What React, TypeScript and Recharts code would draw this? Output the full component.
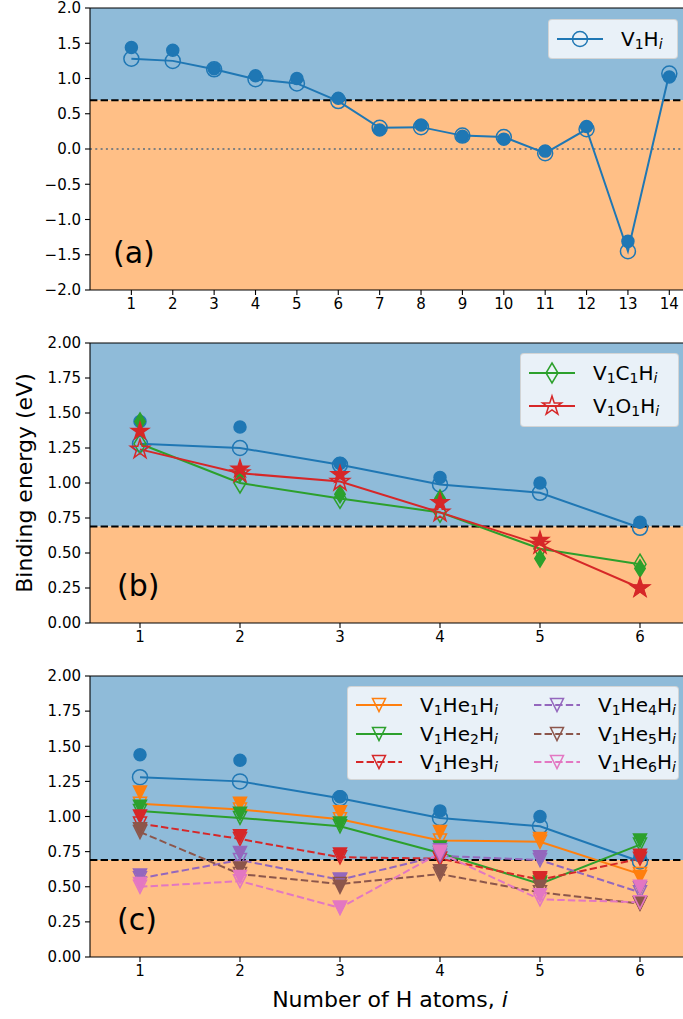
import React from 'react';
import {
  ComposedChart,
  Line,
  XAxis,
  YAxis,
  ReferenceArea,
  ReferenceLine,
  Legend,
} from 'recharts';

const FONT = '"DejaVu Sans", "Liberation Sans", sans-serif';

const C_BLUE = '#1f77b4';
const C_ORANGE = '#ff7f0e';
const C_GREEN = '#2ca02c';
const C_RED = '#d62728';
const C_PURPLE = '#9467bd';
const C_BROWN = '#8c564b';
const C_PINK = '#e377c2';
const BG_TOP = '#8fbbd9';
const BG_BOTTOM = '#ffbf86';

// reference energy (dashed line)
const THRESHOLD = 0.69;

// panel (a)
const hCountsA = [1, 2, 3, 4, 5, 6, 7, 8, 9, 10, 11, 12, 13, 14];
const v1hOpen = [1.28, 1.25, 1.13, 0.99, 0.93, 0.68, 0.3, 0.31, 0.19, 0.17, -0.06, 0.28, -1.45, 1.07];
const v1hFilled = [1.44, 1.4, 1.14, 1.04, 1.0, 0.72, 0.27, 0.34, 0.18, 0.14, -0.03, 0.32, -1.31, 1.02];
const yTicksA = [-2, -1.5, -1, -0.5, 0, 0.5, 1, 1.5, 2];

// panels (b) and (c)
const hCountsB = [1, 2, 3, 4, 5, 6];
const yTicksB = [0, 0.25, 0.5, 0.75, 1, 1.25, 1.5, 1.75, 2];

const v1c1hOpen = [1.28, 1.0, 0.89, 0.79, 0.53, 0.42];
const v1c1hFilled = [1.44, 1.07, 0.92, 0.89, 0.46, 0.39];
const v1o1hOpen = [1.24, 1.07, 1.01, 0.79, 0.56, 0.25];
const v1o1hFilled = [1.37, 1.1, 1.06, 0.86, 0.59, 0.25];

const he1Open = [1.09, 1.05, 0.98, 0.83, 0.82, 0.59];
const he1Filled = [1.17, 1.09, 1.03, 0.89, 0.84, 0.57];
const he2Open = [1.04, 0.99, 0.93, 0.74, 0.52, 0.8];
const he2Filled = [1.07, 1.02, 0.95, 0.78, 0.53, 0.83];
const he3Open = [0.95, 0.84, 0.71, 0.7, 0.55, 0.7];
const he3Filled = [1.0, 0.86, 0.73, 0.7, 0.56, 0.72];
const he4Open = [0.56, 0.69, 0.55, 0.72, 0.69, 0.46];
const he4Filled = [0.58, 0.74, 0.55, 0.76, 0.71, 0.49];
const he5Open = [0.89, 0.59, 0.52, 0.59, 0.46, 0.38];
const he5Filled = [0.91, 0.63, 0.5, 0.61, 0.5, 0.38];
const he6Open = [0.5, 0.54, 0.35, 0.74, 0.41, 0.39];
const he6Filled = [0.52, 0.57, 0.35, 0.75, 0.44, 0.5];

type Shape = 'circle' | 'diamond' | 'star' | 'tri';

const starPoints = (cx: number, cy: number, R: number) => {
  const pts: string[] = [];
  for (let k = 0; k < 10; k++) {
    const a = -Math.PI / 2 + (k * Math.PI) / 5;
    const rad = k % 2 === 0 ? R : R * 0.382;
    pts.push(`${cx + rad * Math.cos(a)},${cy + rad * Math.sin(a)}`);
  }
  return pts.join(' ');
};

const marker = (shape: Shape, cx: number, cy: number, color: string, filled: boolean, key?: any) => {
  const common = { stroke: color, strokeWidth: 1.5, fill: filled ? color : 'none' };
  if (cx == null || cy == null) return <g key={key} />;
  switch (shape) {
    case 'circle':
      return <circle key={key} cx={cx} cy={cy} r={filled ? 6 : 7.5} {...common} />;
    case 'diamond': {
      const h = filled ? 8.5 : 10;
      const w = filled ? 5.2 : 6;
      return <polygon key={key} points={`${cx},${cy - h} ${cx + w},${cy} ${cx},${cy + h} ${cx - w},${cy}`} {...common} />;
    }
    case 'star':
      return <polygon key={key} points={starPoints(cx, cy, filled ? 9 : 10)} {...common} strokeLinejoin="miter" />;
    default: {
      const s = 6.5;
      return <polygon key={key} points={`${cx - s},${cy - s} ${cx + s},${cy - s} ${cx},${cy + s}`} {...common} />;
    }
  }
};

interface SeriesDef {
  key: string;
  open: number[];
  filled: number[];
  color: string;
  shape: Shape;
  dash?: string;
}

const buildRows = (xs: number[], series: SeriesDef[]) =>
  xs.map((x, idx) => {
    const row: any = { i: x };
    series.forEach((s) => {
      row[s.key] = s.open[idx];
      row[s.key + 'F'] = s.filled[idx];
    });
    return row;
  });

const renderSeries = (series: SeriesDef[]) =>
  series.flatMap((s) => [
    <Line
      key={s.key}
      dataKey={s.key}
      stroke={s.color}
      strokeWidth={2}
      strokeDasharray={s.dash}
      dot={(p: any) => marker(s.shape, p.cx, p.cy, s.color, false, `${s.key}-${p.index}`)}
      activeDot={false}
      legendType="none"
      isAnimationActive={false}
    />,
    <Line
      key={s.key + 'F'}
      dataKey={s.key + 'F'}
      stroke="none"
      dot={(p: any) => marker(s.shape, p.cx, p.cy, s.color, true, `${s.key}F-${p.index}`)}
      activeDot={false}
      legendType="none"
      isAnimationActive={false}
    />,
  ]);

const Formula = ({ parts }: { parts: [string, string][] }) => (
  <span>
    {parts.map(([base, sub], k) => (
      <React.Fragment key={k}>
        {base}
        {sub && (
          <span style={{ fontSize: '0.7em', verticalAlign: '-0.22em', fontStyle: sub === 'i' ? 'italic' : 'normal' }}>
            {sub}
          </span>
        )}
      </React.Fragment>
    ))}
  </span>
);

interface LegendItem {
  label: [string, string][];
  color: string;
  shape: Shape;
  dash?: string;
  x: number;
  y: number;
}

const LegendBox = ({ items, width, height }: { items: LegendItem[]; width: number; height: number }) => (
  <div
    style={{
      position: 'relative',
      width,
      height,
      boxSizing: 'border-box',
      background: 'rgba(255,255,255,0.8)',
      border: '1px solid rgba(204,204,204,0.8)',
      borderRadius: 4,
      fontFamily: FONT,
      fontSize: 20,
      color: '#000',
    }}
  >
    {items.map((it, k) => (
      <React.Fragment key={k}>
        <svg width={46} height={26} style={{ position: 'absolute', left: it.x, top: it.y - 13, overflow: 'visible' }}>
          <line x1={0} y1={13} x2={46} y2={13} stroke={it.color} strokeWidth={2} strokeDasharray={it.dash} />
          {marker(it.shape, 23, 13, it.color, false)}
        </svg>
        <div style={{ position: 'absolute', left: it.x + 64, top: it.y - 12, lineHeight: '24px', whiteSpace: 'nowrap' }}>
          <Formula parts={it.label} />
        </div>
      </React.Fragment>
    ))}
  </div>
);

const PanelTag = ({ viewBox, text, dx }: any) => (
  <text
    x={viewBox.x + dx}
    y={viewBox.y + viewBox.height - 27}
    fontSize={30}
    fontFamily={FONT}
    fill="#000"
  >
    {text}
  </text>
);

const tickStyle = { fontSize: 15, fill: '#000', fontFamily: FONT };

interface PanelProps {
  top: number;
  height: number;
  marginTop: number;
  xAxisHeight: number;
  xDomain: [number, number];
  xTicks: number[];
  yDomain: [number, number];
  yTicks: number[];
  yFormat: (v: number) => string;
  series: SeriesDef[];
  tag: string;
  tagDx: number;
  zeroLine?: boolean;
  legend: { left: number; top: number; width: number; height: number; items: LegendItem[] };
  xTitle?: boolean;
  yTitle?: boolean;
}

const Panel = (p: PanelProps) => {
  const data = buildRows(p.xTicks, p.series);
  return (
    <div style={{ position: 'absolute', left: 0, top: p.top }}>
      <ComposedChart
        width={700}
        height={p.height}
        data={data}
        margin={{ top: p.marginTop, right: 10, bottom: 0, left: 0 }}
      >
        <XAxis
          dataKey="i"
          type="number"
          domain={p.xDomain}
          ticks={p.xTicks}
          interval={0}
          height={p.xAxisHeight}
          tick={tickStyle}
          tickSize={5}
          tickMargin={3}
          axisLine={{ stroke: '#000', strokeWidth: 1.1 }}
          tickLine={{ stroke: '#000', strokeWidth: 1.1 }}
          allowDataOverflow
          label={
            p.xTitle
              ? {
                  content: () => (
                    <text x={390} y={347} textAnchor="middle" fontSize={22} fontFamily={FONT} fill="#000">
                      Number of H atoms, <tspan fontStyle="italic">i</tspan>
                    </text>
                  ),
                }
              : undefined
          }
        />
        <YAxis
          type="number"
          width={90}
          domain={p.yDomain}
          ticks={p.yTicks}
          interval={0}
          tickFormatter={p.yFormat}
          tick={tickStyle}
          tickSize={5}
          tickMargin={4}
          axisLine={{ stroke: '#000', strokeWidth: 1.1 }}
          tickLine={{ stroke: '#000', strokeWidth: 1.1 }}
          allowDataOverflow
          label={
            p.yTitle
              ? {
                  content: () => (
                    <text
                      transform="translate(32,153) rotate(-90)"
                      textAnchor="middle"
                      fontSize={22}
                      fontFamily={FONT}
                      fill="#000"
                    >
                      Binding energy (eV)
                    </text>
                  ),
                }
              : undefined
          }
        />
        <ReferenceArea y1={THRESHOLD} y2={p.yDomain[1]} fill={BG_TOP} fillOpacity={1} stroke="none" />
        <ReferenceArea
          y1={p.yDomain[0]}
          y2={THRESHOLD}
          fill={BG_BOTTOM}
          fillOpacity={1}
          stroke="none"
          label={<PanelTag text={p.tag} dx={p.tagDx} />}
        />
        {p.zeroLine && <ReferenceLine y={0} stroke="#808080" strokeWidth={2} strokeDasharray="2 3.3" />}
        <ReferenceLine y={THRESHOLD} stroke="#000" strokeWidth={2} strokeDasharray="7.4 3.2" />
        <ReferenceLine y={p.yDomain[1]} stroke="#000" strokeWidth={1.1} />
        {renderSeries(p.series)}
        <Legend
          layout="vertical"
          align="center"
          verticalAlign="middle"
          width={p.legend.width}
          height={p.legend.height}
          wrapperStyle={{ left: p.legend.left, top: p.legend.top }}
          content={() => <LegendBox items={p.legend.items} width={p.legend.width} height={p.legend.height} />}
        />
      </ComposedChart>
    </div>
  );
};

const fmtA = (v: number) => v.toFixed(1).replace('-', '\u2212');
const fmtB = (v: number) => v.toFixed(2);

const blueA: SeriesDef = { key: 'v1h', open: v1hOpen, filled: v1hFilled, color: C_BLUE, shape: 'circle' };
const blueB: SeriesDef = {
  key: 'v1h',
  open: v1hOpen.slice(0, 6),
  filled: v1hFilled.slice(0, 6),
  color: C_BLUE,
  shape: 'circle',
};

const seriesB: SeriesDef[] = [
  blueB,
  { key: 'c1', open: v1c1hOpen, filled: v1c1hFilled, color: C_GREEN, shape: 'diamond' },
  { key: 'o1', open: v1o1hOpen, filled: v1o1hFilled, color: C_RED, shape: 'star' },
];

const DASH = '7.4 3.2';
const seriesC: SeriesDef[] = [
  blueB,
  { key: 'he1', open: he1Open, filled: he1Filled, color: C_ORANGE, shape: 'tri' },
  { key: 'he2', open: he2Open, filled: he2Filled, color: C_GREEN, shape: 'tri' },
  { key: 'he3', open: he3Open, filled: he3Filled, color: C_RED, shape: 'tri', dash: DASH },
  { key: 'he4', open: he4Open, filled: he4Filled, color: C_PURPLE, shape: 'tri', dash: DASH },
  { key: 'he5', open: he5Open, filled: he5Filled, color: C_BROWN, shape: 'tri', dash: DASH },
  { key: 'he6', open: he6Open, filled: he6Filled, color: C_PINK, shape: 'tri', dash: DASH },
];

const heLabel = (n: string): [string, string][] => [
  ['V', '1'],
  ['He', n],
  ['H', 'i'],
];

export default function App() {
  return (
    <div style={{ position: 'absolute', left: 0, top: 0, width: 683, height: 1019, overflow: 'hidden', background: '#fff' }}>
      <Panel
        top={0}
        height={320}
        marginTop={8}
        xAxisHeight={30}
        xDomain={[0, 14.5]}
        xTicks={hCountsA}
        yDomain={[-2, 2]}
        yTicks={yTicksA}
        yFormat={fmtA}
        series={[blueA]}
        tag="(a)"
        tagDx={23}
        zeroLine
        legend={{
          left: 548,
          top: 19,
          width: 130,
          height: 40,
          items: [{ label: [['V', '1'], ['H', 'i']], color: C_BLUE, shape: 'circle', x: 8, y: 19 }],
        }}
      />
      <Panel
        top={330}
        height={323}
        marginTop={13}
        xAxisHeight={30}
        xDomain={[0.5, 6.5]}
        xTicks={hCountsB}
        yDomain={[0, 2]}
        yTicks={yTicksB}
        yFormat={fmtB}
        series={seriesB}
        tag="(b)"
        tagDx={27}
        yTitle
        legend={{
          left: 520,
          top: 23,
          width: 159,
          height: 74,
          items: [
            { label: [['V', '1'], ['C', '1'], ['H', 'i']], color: C_GREEN, shape: 'diamond', x: 8, y: 19 },
            { label: [['V', '1'], ['O', '1'], ['H', 'i']], color: C_RED, shape: 'star', x: 8, y: 52 },
          ],
        }}
      />
      <Panel
        top={660}
        height={359}
        marginTop={16}
        xAxisHeight={62}
        xDomain={[0.5, 6.5]}
        xTicks={hCountsB}
        yDomain={[0, 2]}
        yTicks={yTicksB}
        yFormat={fmtB}
        series={seriesC}
        tag="(c)"
        tagDx={27}
        xTitle
        legend={{
          left: 347,
          top: 26,
          width: 332,
          height: 94,
          items: [
            { label: heLabel('1'), color: C_ORANGE, shape: 'tri', x: 8, y: 18 },
            { label: heLabel('2'), color: C_GREEN, shape: 'tri', x: 8, y: 47 },
            { label: heLabel('3'), color: C_RED, shape: 'tri', dash: DASH, x: 8, y: 75 },
            { label: heLabel('4'), color: C_PURPLE, shape: 'tri', dash: DASH, x: 186, y: 18 },
            { label: heLabel('5'), color: C_BROWN, shape: 'tri', dash: DASH, x: 186, y: 47 },
            { label: heLabel('6'), color: C_PINK, shape: 'tri', dash: DASH, x: 186, y: 75 },
          ],
        }}
      />
    </div>
  );
}
